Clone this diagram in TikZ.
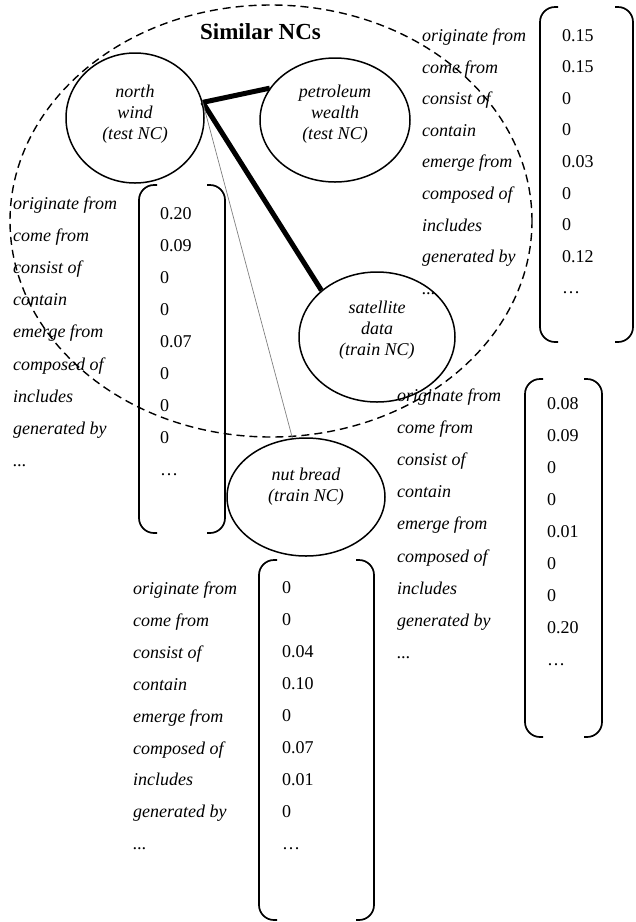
\documentclass[tikz,border=0pt]{standalone}
\usepackage{fontspec}
\setmainfont{Liberation Serif}
\usetikzlibrary{shapes.geometric}
\tikzset{
  ncell/.style={ellipse, draw, line width=1.5pt, inner sep=0pt},
  nctext/.style={align=center, inner sep=0pt, font=\fontsize{18}{21}\selectfont\itshape},
  lab/.style={anchor=base west, inner sep=0pt, font=\fontsize{18}{21}\selectfont\itshape},
  val/.style={anchor=base west, inner sep=0pt, font=\fontsize{18}{21}\selectfont},
  brk/.style={line width=1.7pt, rounded corners=15pt},
  thicklink/.style={line width=5pt},
  thinlink/.style={line width=0.7pt, gray},
  simgroup/.style={ellipse, draw, line width=1.4pt, dash pattern=on 8pt off 5pt, inner sep=0pt},
}
\newcommand\tridots{...}
\newcommand\rellabels[4]{%
  \foreach \t [count=\i] in {originate from,come from,consist of,contain,emerge from,composed of,includes,generated by,\tridots}
    \node[lab] (#1l\i) at (#2,{#3+(\i-1)*#4}) {\t};}
\newcommand\relvalues[5]{%
  \foreach \v [count=\i] in {#5}
    \node[val] (#1v\i) at (#2,{#3+(\i-1)*#4}) {\v};}
\newcommand\vecbracket[4]{%
  \draw[brk] ({#1+18},#3) -- (#1,#3) -- (#1,#4) -- ({#1+18},#4);
  \draw[brk] ({#2-18},#3) -- (#2,#3) -- (#2,#4) -- ({#2-18},#4);}
\begin{document}
\begin{tikzpicture}[x=1pt,y=-1pt]
\useasboundingbox (0,0) rectangle (636,922);
% group
\node[simgroup, minimum width=522pt, minimum height=432pt] (sim) at (271,221) {};
\node[anchor=base, inner sep=0pt, font=\fontsize{23}{26}\selectfont\bfseries] (simt) at (260.5,39) {Similar NCs};
% NC ellipses
\node[ncell, minimum width=138pt, minimum height=130pt] (nw) at (135,118) {};
\node[nctext] (nwt) at (135,114) {north\\wind\\(test NC)};
\node[ncell, minimum width=150pt, minimum height=124pt] (pw) at (335,120) {};
\node[nctext] (pwt) at (335,114) {petroleum\\wealth\\(test NC)};
\node[ncell, minimum width=156pt, minimum height=130pt] (sd) at (377,337) {};
\node[nctext] (sdt) at (377,330.5) {satellite\\data\\(train NC)};
\node[ncell, minimum width=158pt, minimum height=118pt] (nb) at (306,497) {};
\node[nctext] (nbt) at (306,486.5) {nut bread\\(train NC)};
% links
\draw[thicklink] (nw.13) -- (pw.154);
\draw[thicklink] (nw.13) -- (sd.140);
\draw[thinlink] (nw.13) -- (nb.103);
% vectors
\rellabels{a}{13}{209.5}{32.1}
\relvalues{a}{160}{219}{32}{0.20,0.09,0,0,0.07,0,0,0,\textellipsis}
\vecbracket{139}{225}{185}{533}
\rellabels{b}{422}{41.5}{31.6}
\relvalues{b}{562}{41}{31.6}{0.15,0.15,0,0,0.03,0,0,0.12,\textellipsis}
\vecbracket{540}{633}{7}{342}
\rellabels{c}{397}{401.5}{32.1}
\relvalues{c}{547}{409}{32.1}{0.08,0.09,0,0,0.01,0,0,0.20,\textellipsis}
\vecbracket{525}{602}{379}{737}
\rellabels{d}{133}{594.5}{31.9}
\relvalues{d}{282}{593}{32.1}{0,0,0.04,0.10,0,0.07,0.01,0,\textellipsis}
\vecbracket{259}{374}{560}{920}
\end{tikzpicture}
\end{document}
